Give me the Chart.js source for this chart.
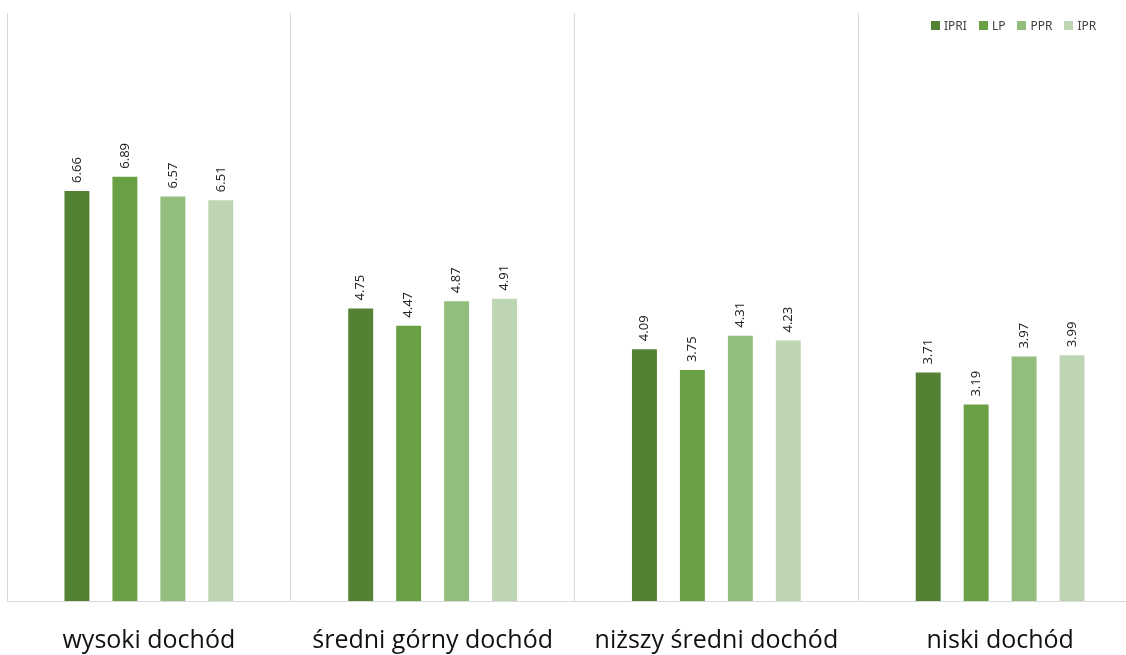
<!DOCTYPE html>
<html lang="pl">
<head>
  <meta charset="UTF-8">
  <title>Dochód</title>
  <script src="https://cdn.jsdelivr.net/npm/chart.js"></script>
  <style>
    html, body { margin: 0; padding: 0; background: #fff; overflow: hidden; }
    .wrap { position: relative; width: 1142px; height: 681px; }
    .legenda {
      position: absolute; top: 17px; left: 931px;
      font-family: "Noto Sans", sans-serif; font-size: 12px; color: #404040;
      display: flex; gap: 12px; align-items: center;
    }
    .legenda span { display: flex; align-items: center; }
    .legenda i { display: inline-block; width: 9px; height: 9px; margin-right: 4px; }
  </style>
</head>
<body>
  <div class="wrap">
    <canvas id="grafico"></canvas>
    <div class="legenda" id="legenda"></div>
  </div>

  <script>
    const kategorie = ["wysoki dochód", "średni górny dochód", "niższy średni dochód", "niski dochód"];
    const serie = ["IPRI", "LP", "PPR", "IPR"];
    const IPRI = [6.66, 4.75, 4.09, 3.71];
    const LP = [6.89, 4.47, 3.75, 3.19];
    const PPR = [6.57, 4.87, 4.31, 3.97];
    const IPR = [6.51, 4.91, 4.23, 3.99];
    const kolory = ["#548235", "#68a043", "#93bd7c", "#bdd5b3"];

    const wartosci = [IPRI, LP, PPR, IPR];

    // etykiety obrócone nad słupkami
    const etykiety = {
      id: "etykiety",
      afterDatasetsDraw(chart) {
        const ctx = chart.ctx;
        ctx.save();
        ctx.font = "13px 'Noto Sans', sans-serif";
        ctx.fillStyle = "#262626";
        ctx.textAlign = "left";
        ctx.textBaseline = "middle";
        chart.data.datasets.forEach((ds, i) => {
          chart.getDatasetMeta(i).data.forEach((bar, j) => {
            ctx.save();
            ctx.translate(bar.x, bar.y - 8);
            ctx.rotate(-Math.PI / 2);
            ctx.fillText(ds.data[j].toFixed(2), 0, 0);
            ctx.restore();
          });
        });
        ctx.restore();
      }
    };

    new Chart(document.getElementById("grafico"), {
      type: "bar",
      data: {
        labels: kategorie,
        datasets: serie.map((nazwa, i) => ({
          label: nazwa,
          data: wartosci[i],
          backgroundColor: kolory[i],
          categoryPercentage: 0.676,
          barPercentage: 0.52
        }))
      },
      options: {
        responsive: true,
        maintainAspectRatio: false,
        animation: false,
        layout: { padding: { left: 7, top: 13, right: 0, bottom: 0 } },
        plugins: {
          legend: { display: false },
          tooltip: { enabled: false }
        },
        scales: {
          y: { display: false, min: 0, max: 9.55 },
          x: {
            grid: { color: "#d9d9d9", drawTicks: false },
            border: { color: "#d9d9d9" },
            ticks: {
              color: "#111",
              padding: 25,
              font: { family: "'Open Sans', sans-serif", size: 25 }
            }
          }
        }
      },
      plugins: [etykiety]
    });

    const legenda = document.getElementById("legenda");
    serie.forEach((nazwa, i) => {
      legenda.innerHTML += `<span><i style="background:${kolory[i]}"></i>${nazwa}</span>`;
    });
  </script>
</body>
</html>
